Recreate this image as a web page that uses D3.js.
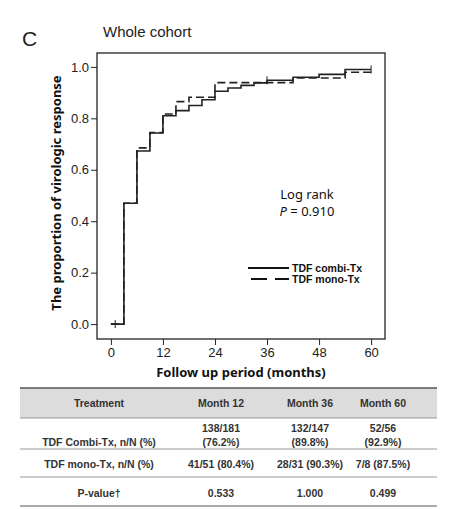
<!DOCTYPE html>
<html>
<head>
<meta charset="utf-8">
<script src="https://cdn.jsdelivr.net/npm/d3@7"></script>
<style>
  body { margin: 0; background: #fff; }
  svg { display: block; }
  .tick text { font-family: "Liberation Sans", Arial, sans-serif; font-size: 13px; fill: #222; }
  .tick line { stroke: #222; }
  .label { font-family: "Noto Sans", sans-serif; font-weight: bold; font-size: 13px; fill: #111; }
  .tbl { font-family: "Liberation Sans", Arial, sans-serif; font-size: 10.5px; font-weight: bold; fill: #333; }
</style>
</head>
<body>
<svg width="459" height="509"></svg>
<script>
// step curve data
var combiMonths = [0, 3, 6, 9, 12, 15, 18, 21, 24, 27, 30, 33, 36, 42, 48, 54, 60];
var combiRate = [0, 0.47, 0.673, 0.743, 0.81, 0.83, 0.85, 0.872, 0.905, 0.918, 0.928, 0.938, 0.948, 0.96, 0.971, 0.99, 0.99];
var combiCensor = [1, 36, 60];

var monoMonths = [0, 3, 6, 9, 12, 15, 18, 24, 42, 54, 60];
var monoRate = [0, 0.47, 0.685, 0.745, 0.817, 0.865, 0.882, 0.939, 0.957, 0.979, 0.979];

var xTicks = [0, 12, 24, 36, 48, 60];
var yTicks = [0, 0.2, 0.4, 0.6, 0.8, 1.0];

var legendNames = ["TDF combi-Tx", "TDF mono-Tx"];

// table below the chart
var tableHeader = ["Treatment", "Month 12", "Month 36", "Month 60"];
var tableCombi = ["TDF Combi-Tx, n/N (%)", "138/181|(76.2%)", "132/147|(89.8%)", "52/56|(92.9%)"];
var tableMono = ["TDF mono-Tx, n/N (%)", "41/51 (80.4%)", "28/31 (90.3%)", "7/8 (87.5%)"];
var tablePval = ["P-value\u2020", "0.533", "1.000", "0.499"];

var svg = d3.select("svg");

var x = d3.scaleLinear().domain([-3.2, 63.2]).range([97, 385]);
var y = d3.scaleLinear().domain([-0.058, 1.054]).range([339, 53]);

// frame
svg.append("rect")
    .attr("x", 97).attr("y", 53)
    .attr("width", 288).attr("height", 286)
    .attr("fill", "none").attr("stroke", "#222").attr("stroke-width", 1.3);

var yAxis = svg.append("g")
    .attr("transform", "translate(97,0)")
    .call(d3.axisLeft(y).tickValues(yTicks).tickFormat(d3.format(".1f")).tickSize(6).tickPadding(2));
yAxis.select(".domain").remove();

var xAxis = svg.append("g")
    .attr("transform", "translate(0,339)")
    .call(d3.axisBottom(x).tickValues(xTicks).tickSize(6).tickPadding(3));
xAxis.select(".domain").remove();

svg.append("text")
    .attr("class", "label")
    .attr("text-anchor", "middle")
    .attr("transform", "translate(61,193) rotate(-90)")
    .text("The proportion of virologic response");

svg.append("text")
    .attr("class", "label")
    .attr("text-anchor", "middle")
    .attr("x", 241).attr("y", 377)
    .text("Follow up period (months)");

svg.append("text")
    .attr("x", 22).attr("y", 46)
    .style("font-family", "Liberation Sans, Arial, sans-serif")
    .style("font-size", "21px")
    .attr("fill", "#222")
    .text("C");

svg.append("text")
    .attr("x", 103).attr("y", 37)
    .style("font-family", "Liberation Sans, Arial, sans-serif")
    .style("font-size", "15px")
    .attr("fill", "#222")
    .text("Whole cohort");

// curves
var line = d3.line()
    .x(function(d) { return x(d[0]); })
    .y(function(d) { return y(d[1]); })
    .curve(d3.curveStepAfter);

var combiPts = combiMonths.map(function(m, i) { return [m, combiRate[i]]; });
var monoPts = monoMonths.map(function(m, i) { return [m, monoRate[i]]; });

svg.append("path")
    .attr("d", line(monoPts))
    .attr("fill", "none").attr("stroke", "#222").attr("stroke-width", 1.6)
    .attr("stroke-dasharray", "8,4");

svg.append("path")
    .attr("d", line(combiPts))
    .attr("fill", "none").attr("stroke", "#222").attr("stroke-width", 1.6);

// censor ticks on the combi curve
function combiAt(m) {
    return d3.max(combiPts.filter(function(p) { return p[0] <= m; }), function(p) { return p[1]; });
}
svg.selectAll(".cens")
    .data(combiCensor)
    .enter()
    .append("line")
    .attr("class", "cens")
    .attr("x1", function(d) { return x(d); })
    .attr("x2", function(d) { return x(d); })
    .attr("y1", function(d) { return y(combiAt(d)) - 4; })
    .attr("y2", function(d) { return y(combiAt(d)) + 4; })
    .attr("stroke", "#222").attr("stroke-width", 1);

// log rank annotation
svg.append("text")
    .attr("x", 307).attr("y", 199)
    .attr("text-anchor", "middle")
    .style("font-family", "Noto Sans, sans-serif").style("font-size", "13px")
    .attr("fill", "#111")
    .text("Log rank");
var pText = svg.append("text")
    .attr("x", 307).attr("y", 216)
    .attr("text-anchor", "middle")
    .style("font-family", "Noto Sans, sans-serif").style("font-size", "13px")
    .attr("fill", "#111");
pText.append("tspan").style("font-style", "italic").text("P");
pText.append("tspan").text(" = 0.910");

// legend
var legend = svg.selectAll(".leg")
    .data(legendNames)
    .enter()
    .append("g")
    .attr("class", "leg")
    .attr("transform", function(d, i) { return "translate(0," + (268 + i * 11) + ")"; });

legend.append("line")
    .attr("x1", function(d, i) { return i == 0 ? 248 : 251; })
    .attr("x2", 289)
    .attr("stroke", "#111").attr("stroke-width", 2)
    .attr("stroke-dasharray", function(d, i) { return i == 0 ? null : "16,8"; });

legend.append("text")
    .attr("x", 292).attr("y", 4)
    .style("font-family", "Liberation Sans, Arial, sans-serif")
    .style("font-weight", "bold")
    .style("font-size", "10.5px")
    .attr("fill", "#111")
    .text(function(d) { return d; });

// table
var colCenter = [99, 221, 310, 383];
var tLeft = 20, tRight = 437;

svg.append("rect")
    .attr("x", tLeft).attr("y", 388)
    .attr("width", tRight - tLeft).attr("height", 30)
    .attr("fill", "#dcdcdc");
svg.append("line").attr("x1", tLeft).attr("x2", tRight).attr("y1", 388).attr("y2", 388)
    .attr("stroke", "#555").attr("stroke-width", 1.5);
[418, 449, 477].forEach(function(yy) {
    svg.append("line").attr("x1", tLeft).attr("x2", tRight).attr("y1", yy).attr("y2", yy)
        .attr("stroke", "#9a9a9a").attr("stroke-width", 1.2);
});
svg.append("line").attr("x1", tLeft).attr("x2", tRight).attr("y1", 506).attr("y2", 506)
    .attr("stroke", "#aaa").attr("stroke-width", 2);

function tableRow(cells, cy) {
    cells.forEach(function(c, i) {
        var parts = c.split("|");
        var t = svg.append("text")
            .attr("class", "tbl")
            .attr("text-anchor", "middle")
            .attr("x", colCenter[i]);
        if (parts.length == 1) {
            t.attr("y", (i == 0 && cells === tableCombi ? cy + 7 : cy) + 3.5).text(c);
        } else {
            t.attr("y", cy - 7 + 3.5).text(parts[0]);
            svg.append("text")
                .attr("class", "tbl")
                .attr("text-anchor", "middle")
                .attr("x", colCenter[i]).attr("y", cy + 7 + 3.5)
                .text(parts[1]);
        }
    });
}
tableRow(tableHeader, 403);
tableRow(tableCombi, 435);
tableRow(tableMono, 464);
tableRow(tablePval, 493);
</script>
</body>
</html>
